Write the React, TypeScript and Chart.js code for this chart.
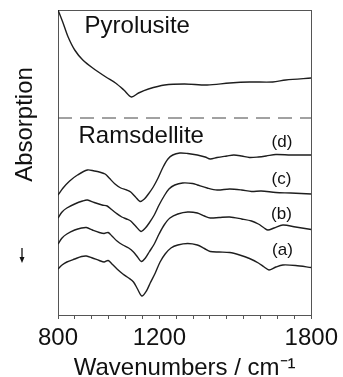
import React, { useEffect, useRef } from "react";
import { Chart, registerables } from "chart.js";

Chart.register(...registerables);

const FONT = '"Liberation Sans", Arial, Helvetica, sans-serif';

// ---- Data (wavenumber in cm-1, absorption in arbitrary units) ----
const pyroWavenumbers = [800, 820, 840, 866, 898, 937, 989, 1027, 1060, 1090, 1118, 1157, 1221, 1299, 1389, 1478, 1556, 1648, 1699, 1800];
const pyroAbs = [3.05, 2.92, 2.78, 2.65, 2.55, 2.47, 2.38, 2.32, 2.25, 2.18, 2.22, 2.26, 2.30, 2.31, 2.30, 2.32, 2.33, 2.33, 2.35, 2.37];

const dWavenumbers = [800, 820, 846, 877, 916, 943, 963, 986, 1002, 1025, 1048, 1071, 1087, 1106, 1124, 1141, 1157, 1176, 1195, 1215, 1234, 1253, 1281, 1312, 1350, 1381, 1401, 1428, 1467, 1494, 1525, 1556, 1591, 1622, 1660, 1719, 1800];
const dAbs = [1.20, 1.27, 1.34, 1.40, 1.45, 1.44, 1.43, 1.41, 1.37, 1.31, 1.27, 1.25, 1.23, 1.18, 1.135, 1.16, 1.21, 1.28, 1.37, 1.48, 1.56, 1.60, 1.62, 1.615, 1.60, 1.58, 1.56, 1.575, 1.59, 1.60, 1.59, 1.575, 1.58, 1.59, 1.605, 1.60, 1.60];

const cWavenumbers = [800, 816, 835, 866, 897, 916, 943, 974, 994, 1009, 1029, 1052, 1071, 1087, 1106, 1128, 1145, 1160, 1180, 1199, 1219, 1238, 1261, 1292, 1331, 1350, 1389, 1428, 1478, 1525, 1564, 1602, 1660, 1719, 1800];
const cAbs = [0.97, 1.03, 1.07, 1.11, 1.14, 1.15, 1.125, 1.10, 1.09, 1.06, 1.02, 0.98, 0.96, 0.94, 0.89, 0.835, 0.87, 0.92, 1.00, 1.10, 1.19, 1.26, 1.30, 1.32, 1.315, 1.30, 1.27, 1.25, 1.26, 1.25, 1.235, 1.24, 1.225, 1.22, 1.21];

const bWavenumbers = [800, 816, 835, 866, 893, 912, 936, 963, 982, 998, 1013, 1033, 1056, 1079, 1098, 1114, 1129, 1145, 1160, 1180, 1199, 1219, 1242, 1273, 1312, 1350, 1378, 1401, 1436, 1478, 1525, 1564, 1591, 1614, 1629, 1653, 1688, 1738, 1800];
const bAbs = [0.71, 0.77, 0.81, 0.85, 0.87, 0.875, 0.85, 0.825, 0.815, 0.825, 0.79, 0.74, 0.70, 0.67, 0.63, 0.58, 0.535, 0.57, 0.63, 0.71, 0.81, 0.90, 0.97, 1.01, 1.03, 1.02, 0.99, 0.97, 0.975, 0.98, 0.96, 0.94, 0.91, 0.87, 0.85, 0.87, 0.90, 0.88, 0.855];

const aWavenumbers = [800, 816, 835, 866, 893, 912, 936, 963, 982, 998, 1013, 1033, 1056, 1079, 1098, 1114, 1131, 1149, 1164, 1184, 1203, 1223, 1246, 1273, 1312, 1350, 1378, 1401, 1436, 1478, 1517, 1556, 1591, 1614, 1633, 1660, 1688, 1738, 1800];
const aAbs = [0.46, 0.50, 0.53, 0.56, 0.585, 0.59, 0.57, 0.545, 0.53, 0.545, 0.51, 0.46, 0.41, 0.37, 0.33, 0.26, 0.19, 0.24, 0.32, 0.42, 0.53, 0.61, 0.67, 0.70, 0.715, 0.70, 0.665, 0.635, 0.63, 0.625, 0.60, 0.565, 0.52, 0.48, 0.45, 0.48, 0.50, 0.495, 0.475];

const dividerLevel = 1.97;
const yMin = 0;
const yMax = 3.05;

// ---- Ticks & labels ----
const xMin = 800;
const xMax = 1800;
const tickValues = [800, 866.67, 933.33, 1000, 1066.67, 1133.33, 1200, 1266.67, 1333.33, 1400, 1466.67, 1533.33, 1600, 1666.67, 1733.33, 1800];
const tickLabels = ["800", "1200", "1800"];

const panelTitles = ["Pyrolusite", "Ramsdellite"];
const panelTitleX = [905, 881];
const panelTitleY = [2.82, 1.72];

const curveLabels = ["(d)", "(c)", "(b)", "(a)"];
const curveLabelX = [1684, 1682, 1682, 1686];
const curveLabelY = [1.725, 1.36, 1.01, 0.645];

const yTitle = "Absorption";
const yTitleCenter = 1.905;
const arrowTop = 0.67;
const arrowBottom = 0.52;
const xTitle = "Wavenumbers / cm\u207B\u00B9";

const LINE = "#1e1e1e";
const FRAME = "#555";

const toPoints = (xs: number[], ys: number[]) => xs.map((x, i) => ({ x, y: ys[i] }));

const textPlugin = {
  id: "figureText",
  afterDatasetsDraw(chart: any) {
    const { ctx, chartArea, scales } = chart;
    const x = scales.x;
    const y = scales.y;
    ctx.save();
    ctx.fillStyle = "#111";
    ctx.strokeStyle = "#111";
    ctx.font = `24px ${FONT}`;
    ctx.textAlign = "left";
    ctx.textBaseline = "alphabetic";
    panelTitles.forEach((t, i) => {
      ctx.fillText(t, x.getPixelForValue(panelTitleX[i]), y.getPixelForValue(panelTitleY[i]));
    });
    ctx.font = `17px ${FONT}`;
    ctx.textAlign = "center";
    ctx.textBaseline = "middle";
    curveLabels.forEach((t, i) => {
      ctx.fillText(t, x.getPixelForValue(curveLabelX[i]), y.getPixelForValue(curveLabelY[i]));
    });
    // y-axis title
    ctx.save();
    ctx.translate(chartArea.left - 33, y.getPixelForValue(yTitleCenter));
    ctx.rotate(-Math.PI / 2);
    ctx.font = `24px ${FONT}`;
    ctx.textAlign = "center";
    ctx.textBaseline = "middle";
    ctx.fillText(yTitle, 0, 0);
    ctx.restore();
    // down arrow
    const ax = chartArea.left - 36;
    const ay0 = y.getPixelForValue(arrowTop);
    const ay1 = y.getPixelForValue(arrowBottom);
    ctx.lineWidth = 1.3;
    ctx.beginPath();
    ctx.moveTo(ax, ay0);
    ctx.lineTo(ax, ay1 - 4);
    ctx.stroke();
    ctx.beginPath();
    ctx.moveTo(ax - 2.5, ay1 - 6);
    ctx.lineTo(ax + 2.5, ay1 - 6);
    ctx.lineTo(ax, ay1);
    ctx.closePath();
    ctx.fill();
    ctx.restore();
  },
};

export default function App() {
  const canvasRef = useRef<HTMLCanvasElement | null>(null);

  useEffect(() => {
    if (!canvasRef.current) return;
    const curve = (label: string, xs: number[], ys: number[]) => ({
      label,
      data: toPoints(xs, ys),
      borderColor: LINE,
      borderWidth: 1.4,
      pointRadius: 0,
      tension: 0.3,
      fill: false,
    });
    const chart = new Chart(canvasRef.current, {
      type: "line",
      data: {
        datasets: [
          curve("Pyrolusite", pyroWavenumbers, pyroAbs),
          {
            label: "divider",
            data: [
              { x: xMin, y: dividerLevel },
              { x: xMax, y: dividerLevel },
            ],
            borderColor: "#444",
            borderWidth: 1,
            borderDash: [14, 8],
            pointRadius: 0,
            fill: false,
          },
          curve("(d)", dWavenumbers, dAbs),
          curve("(c)", cWavenumbers, cAbs),
          curve("(b)", bWavenumbers, bAbs),
          curve("(a)", aWavenumbers, aAbs),
        ] as any,
      },
      options: {
        responsive: false,
        animation: false,
        devicePixelRatio: 1,
        layout: { padding: 0 },
        plugins: { legend: { display: false }, tooltip: { enabled: false } },
        scales: {
          x: {
            type: "linear",
            position: "bottom",
            min: xMin,
            max: xMax,
            border: { display: true, color: FRAME, width: 1 },
            grid: { display: true, drawOnChartArea: false, drawTicks: true, tickLength: 4, color: FRAME },
            afterBuildTicks: (scale: any) => {
              scale.ticks = tickValues.map((v) => ({ value: v }));
            },
            afterFit: (scale: any) => {
              scale.height = 62;
            },
            ticks: {
              autoSkip: false,
              maxRotation: 0,
              padding: 5,
              color: "#111",
              font: { family: FONT, size: 24 },
              callback: (value: any) => {
                const s = String(Math.round(Number(value)));
                return tickLabels.includes(s) ? s : "";
              },
            },
            title: {
              display: true,
              text: xTitle,
              color: "#111",
              font: { family: FONT, size: 24, lineHeight: 1 },
              padding: { top: 0, bottom: -3 },
            },
          },
          xTop: {
            type: "linear",
            position: "top",
            min: xMin,
            max: xMax,
            border: { display: true, color: FRAME, width: 1 },
            grid: { display: false },
            ticks: { display: false },
            afterFit: (scale: any) => {
              scale.height = 10;
            },
          },
          y: {
            type: "linear",
            position: "left",
            min: yMin,
            max: yMax,
            border: { display: true, color: FRAME, width: 1 },
            grid: { display: false },
            ticks: { display: false },
            afterFit: (scale: any) => {
              scale.width = 58;
            },
          },
          yRight: {
            type: "linear",
            position: "right",
            min: yMin,
            max: yMax,
            border: { display: true, color: FRAME, width: 1 },
            grid: { display: false },
            ticks: { display: false },
            afterFit: (scale: any) => {
              scale.width = 27;
            },
          },
        },
      } as any,
      plugins: [textPlugin],
    });
    return () => chart.destroy();
  }, []);

  return (
    <div style={{ position: "fixed", left: 0, top: 0, width: 343, height: 377, background: "#fff" }}>
      <canvas ref={canvasRef} width={343} height={377} />
    </div>
  );
}
